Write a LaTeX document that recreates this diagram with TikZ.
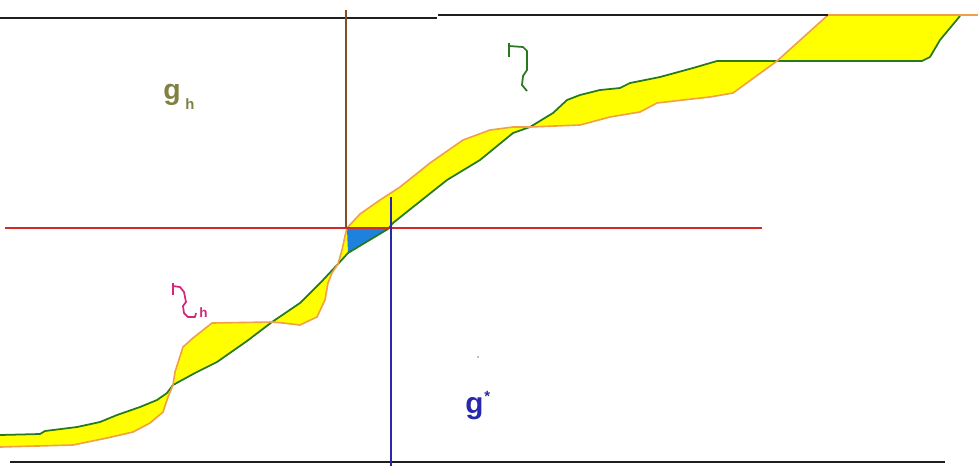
\documentclass[tikz,border=0pt]{standalone}
\usepackage{fontspec}
\setmainfont{Liberation Sans}
\begin{document}
\begin{tikzpicture}[x=0.026cm,y=-0.026cm,
  curvegreen/.style={draw=cgreen,line width=1.3pt,line join=round},
  curveorange/.style={draw=corange,line width=1.2pt,line join=round},
  axisline/.style={line width=1.3pt},
  lbl/.style={inner sep=0pt,font=\bfseries}]
\definecolor{cgreen}{RGB}{40,120,30}
\definecolor{corange}{RGB}{240,160,70}
\definecolor{cyellow}{RGB}{255,255,0}
\definecolor{cblue}{RGB}{30,130,220}
\definecolor{cred}{RGB}{210,40,40}
\definecolor{cbrown}{RGB}{130,80,40}
\definecolor{cnavy}{RGB}{40,40,170}
\definecolor{colive}{RGB}{128,128,64}
\definecolor{cmag}{RGB}{210,40,120}
\definecolor{cblack}{RGB}{30,30,30}
\path[use as bounding box] (0,0) rectangle (978,466);
% yellow fill between the curves
\fill[cyellow] (0,435) -- (40,434) -- (45,431) -- (77,427) -- (100,422) -- (117,415) -- (140,407) -- (157,400) -- (167,393) -- (173,385) -- (195,373) -- (217,362) -- (247,341) -- (272,322) -- (300,303) -- (323,280) -- (338,264) -- (348,253) -- (388,229) -- (393,223) -- (413,207) -- (447,180) -- (480,160) -- (513,133) -- (530,127) -- (553,113) -- (567,100) -- (580,95) -- (600,90) -- (620,88) -- (630,83) -- (660,77) -- (693,68) -- (717,61) -- (777,61) -- (922,61) -- (930,57) -- (940,40) -- (950,28) -- (960,16)
  -- (978,15) -- (828,15) -- (777,61) -- (733,93) -- (710,97) -- (683,100) -- (657,103) -- (640,112) -- (610,117) -- (580,125) -- (530,127) -- (513,127) -- (490,130) -- (463,140) -- (430,163) -- (400,187) -- (380,200) -- (360,214) -- (347,228) -- (345,236) -- (342,250) -- (338,264) -- (332,273) -- (328,283) -- (325,300) -- (317,317) -- (300,325) -- (283,323) -- (272,322) -- (212,323) -- (193,338) -- (183,347) -- (175,372) -- (173,385) -- (168,397) -- (163,412) -- (150,423) -- (133,432) -- (107,438) -- (73,445) -- (0,447) -- cycle;
% blue triangle
\fill[cblue] (347,229) -- (388,229) -- (348,253) -- cycle;
% green curve
\draw[curvegreen] (0,435) -- (40,434) -- (45,431) -- (77,427) -- (100,422) -- (117,415) -- (140,407) -- (157,400) -- (167,393) -- (173,385) -- (195,373) -- (217,362) -- (247,341) -- (272,322) -- (300,303) -- (323,280) -- (338,264) -- (348,253) -- (388,229) -- (393,223) -- (413,207) -- (447,180) -- (480,160) -- (513,133) -- (530,127) -- (553,113) -- (567,100) -- (580,95) -- (600,90) -- (620,88) -- (630,83) -- (660,77) -- (693,68) -- (717,61) -- (777,61) -- (922,61) -- (930,57) -- (940,40) -- (950,28) -- (960,16);
% orange curve
\draw[curveorange] (0,447) -- (73,445) -- (107,438) -- (133,432) -- (150,423) -- (163,412) -- (168,397) -- (173,385) -- (175,372) -- (183,347) -- (193,338) -- (212,323) -- (272,322) -- (283,323) -- (300,325) -- (317,317) -- (325,300) -- (328,283) -- (332,273) -- (338,264) -- (342,250) -- (345,236) -- (347,228) -- (360,214) -- (380,200) -- (400,187) -- (430,163) -- (463,140) -- (490,130) -- (513,127) -- (530,127) -- (580,125) -- (610,117) -- (640,112) -- (657,103) -- (683,100) -- (710,97) -- (733,93) -- (777,61) -- (828,15) -- (978,15);
% straight lines
\coordinate (tl) at (0,18);
\coordinate (tm1) at (437,18);
\coordinate (tm2) at (438,15);
\coordinate (tr) at (828,15);
\draw[axisline,cblack] (tl) -- (tm1);
\draw[axisline,cblack] (tm2) -- (tr);
\coordinate (bl) at (10,462);
\coordinate (br) at (945,462);
\draw[axisline,cblack] (bl) -- (br);
\coordinate (rl) at (5,228);
\coordinate (rr) at (762,228);
\draw[line width=1.1pt,cred] (rl) -- (rr);
\coordinate (vt) at (346,10);
\coordinate (vb) at (346,228);
\draw[line width=1.1pt,cbrown] (vt) -- (vb);
\coordinate (bt) at (391,197);
\coordinate (bb) at (391,466);
\draw[line width=1.1pt,cnavy] (bt) -- (bb);
% labels
\node[lbl,text=colive,anchor=base west,font=\bfseries\fontsize{21}{21}\selectfont] (gh) at (163,99) {g};
\node[lbl,text=colive,anchor=base west,font=\bfseries\fontsize{11}{11}\selectfont] (ghsub) at (185,109) {h};
\node[lbl,text=cnavy,anchor=base west,font=\bfseries\fontsize{22}{22}\selectfont] (gs) at (465,413) {g};
\node[lbl,text=cnavy,anchor=base west,font=\bfseries\fontsize{11}{11}\selectfont] (gsstar) at (484,401) {*};
\fill[gray] (478,357) circle (0.8);
% green squiggle
\draw[cgreen,line width=1.3pt,line join=round] (509,43) -- (509,57);
\draw[cgreen,line width=1.3pt,line join=round] (509,46) -- (523,47) -- (527,51) -- (527,70) -- (523,76) -- (522,85) -- (527,91);
% magenta squiggle
\draw[cmag,line width=1.3pt,line join=round] (173,283) -- (173,295);
\draw[cmag,line width=1.3pt,line join=round] (173,286) -- (180,287) -- (184,292) -- (186,302) -- (183,306) -- (184,313) -- (188,317) -- (195,317) -- (196,313);
\node[lbl,text=cmag,anchor=base west,font=\bfseries\fontsize{10}{10}\selectfont] (mh) at (199,317) {h};
\end{tikzpicture}
\end{document}
